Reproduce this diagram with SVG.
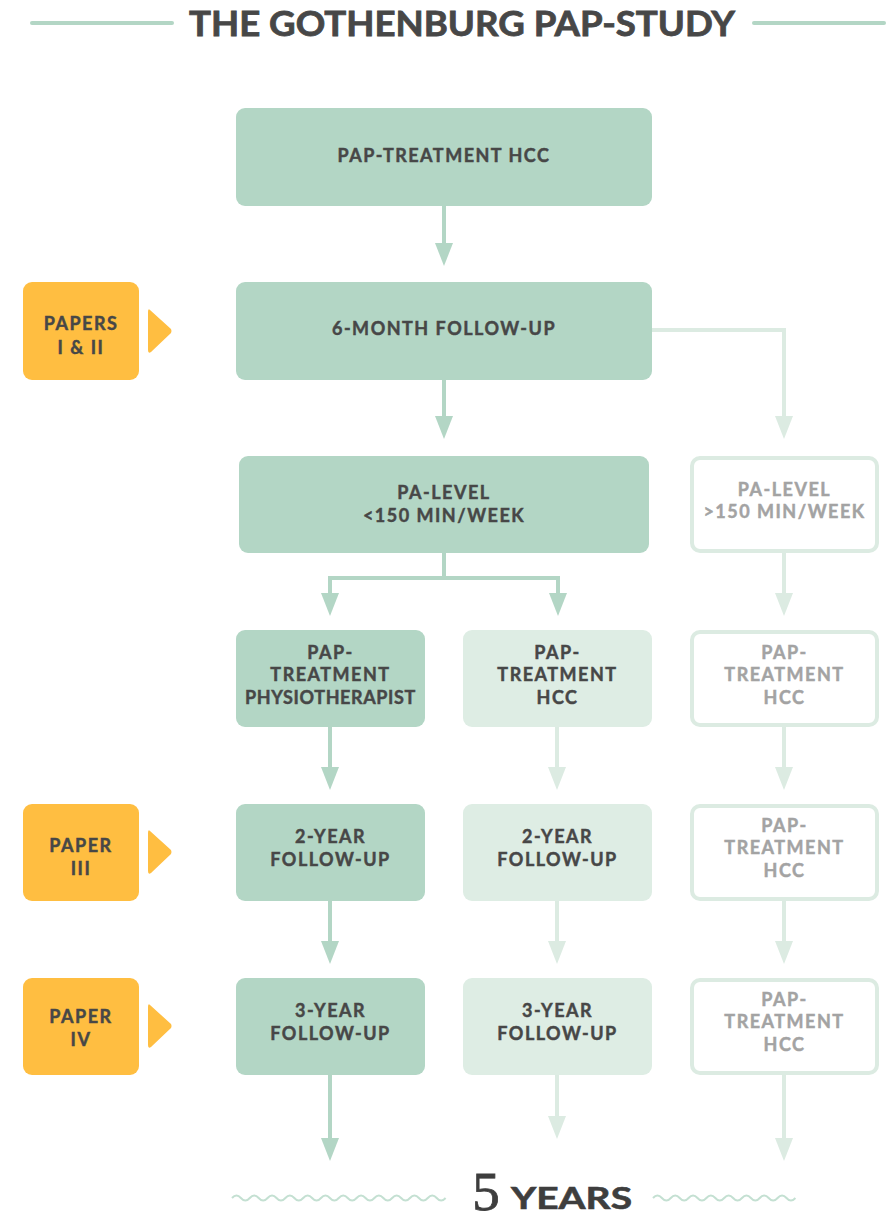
<svg xmlns="http://www.w3.org/2000/svg" width="891" height="1222" viewBox="0 0 891 1222">
  <style>
    .t { font-family: Lato, "Liberation Sans", sans-serif; font-weight: 700; font-size: 18px; letter-spacing: 1.5px; text-anchor: middle; fill: #474747; stroke: #474747; stroke-width: 0.45; }
    .g { fill: #a3a3a3; stroke: #a3a3a3; }
    .main { fill: #b3d6c5; }
    .soft { fill: #deede4; }
    .open { fill: #ffffff; stroke: #dcebe2; stroke-width: 4; }
    .paper { fill: #ffbe41; }
    .c-main { fill: none; stroke: #b3d6c5; stroke-width: 4; }
    .c-soft { fill: none; stroke: #dcebe2; stroke-width: 4; }
  </style>
  <defs>
    <marker id="head-main" markerUnits="userSpaceOnUse" markerWidth="24" markerHeight="18" refX="0" refY="9" orient="auto" viewBox="0 0 24 18">
      <path d="M0,0 L23,9 L0,18 z" fill="#b3d6c5"/>
    </marker>
    <marker id="head-soft" markerUnits="userSpaceOnUse" markerWidth="24" markerHeight="18" refX="0" refY="9" orient="auto" viewBox="0 0 24 18">
      <path d="M0,0 L23,9 L0,18 z" fill="#dcebe2"/>
    </marker>
    <path id="pointer" d="M150,-21 Q148,-23 148,-19 L148,19 Q148,23 151,21 L171,2 Q172,0 171,-2 z"/>
  </defs>

  <!-- title -->
  <g id="title">
    <line x1="32" y1="23" x2="172" y2="23" stroke="#b3d6c5" stroke-width="4" stroke-linecap="round"/>
    <line x1="754" y1="23" x2="884" y2="23" stroke="#b3d6c5" stroke-width="4" stroke-linecap="round"/>
    <text x="462" y="36" textLength="546" lengthAdjust="spacingAndGlyphs" style="font-family: Lato, 'Liberation Sans', sans-serif; font-weight: 700; font-size: 35px; fill: #474747; stroke: #474747; stroke-width: 0.8; text-anchor: middle;">THE GOTHENBURG PAP-STUDY</text>
  </g>

  <!-- connectors -->
  <g id="connectors">
    <path class="c-main" d="M444 206 V243" marker-end="url(#head-main)"/>
    <path class="c-main" d="M444 380 V416" marker-end="url(#head-main)"/>
    <path class="c-soft" d="M652 330 H784 V416" marker-end="url(#head-soft)"/>
    <path class="c-main" d="M444 553 V578"/>
    <path class="c-main" d="M444 578 H330 V593" marker-end="url(#head-main)"/>
    <path class="c-main" d="M444 578 H558 V593" marker-end="url(#head-main)"/>
    <path class="c-soft" d="M784 553 V593" marker-end="url(#head-soft)"/>

    <path class="c-main" d="M330 727 V767" marker-end="url(#head-main)"/>
    <path class="c-soft" d="M557 727 V767" marker-end="url(#head-soft)"/>
    <path class="c-soft" d="M784 727 V767" marker-end="url(#head-soft)"/>

    <path class="c-main" d="M330 901 V941" marker-end="url(#head-main)"/>
    <path class="c-soft" d="M557 901 V941" marker-end="url(#head-soft)"/>
    <path class="c-soft" d="M784 901 V941" marker-end="url(#head-soft)"/>

    <path class="c-main" d="M330 1075 V1138" marker-end="url(#head-main)"/>
    <path class="c-soft" d="M557 1075 V1116" marker-end="url(#head-soft)"/>
    <path class="c-soft" d="M784 1075 V1138" marker-end="url(#head-soft)"/>
  </g>

  <!-- main column -->
  <g id="pap-treatment-hcc">
    <rect class="main" x="236" y="108" width="416" height="98" rx="9"/>
    <text class="t" x="444" y="162">PAP-TREATMENT HCC</text>
  </g>
  <g id="six-month-follow-up">
    <rect class="main" x="236" y="282" width="416" height="98" rx="9"/>
    <text class="t" x="444" y="335">6-MONTH FOLLOW-UP</text>
  </g>
  <g id="pa-level-low">
    <rect class="main" x="239" y="456" width="410" height="97" rx="9"/>
    <text class="t" x="444" y="499">PA-LEVEL</text>
    <text class="t" x="444" y="522">&lt;150 MIN/WEEK</text>
  </g>
  <g id="pa-level-high">
    <rect class="open" x="692" y="458" width="185" height="93" rx="8"/>
    <text class="t g" x="784.5" y="496">PA-LEVEL</text>
    <text class="t g" x="784.5" y="518">&gt;150 MIN/WEEK</text>
  </g>

  <!-- row: treatment -->
  <g id="pap-physiotherapist">
    <rect class="main" x="236" y="630" width="189" height="97" rx="9"/>
    <text class="t" x="330.5" y="659">PAP-</text>
    <text class="t" x="330.5" y="681">TREATMENT</text>
    <text class="t" x="330.5" y="704" style="letter-spacing: 0.6px;">PHYSIOTHERAPIST</text>
  </g>
  <g id="pap-hcc-middle">
    <rect class="soft" x="463" y="630" width="189" height="97" rx="9"/>
    <text class="t" x="557.5" y="659">PAP-</text>
    <text class="t" x="557.5" y="681">TREATMENT</text>
    <text class="t" x="557.5" y="704">HCC</text>
  </g>
  <g id="pap-hcc-right-1">
    <rect class="open" x="692" y="632" width="185" height="93" rx="8"/>
    <text class="t g" x="784.5" y="659">PAP-</text>
    <text class="t g" x="784.5" y="681">TREATMENT</text>
    <text class="t g" x="784.5" y="704">HCC</text>
  </g>

  <!-- row: two years -->
  <g id="papers-iii">
    <rect class="paper" x="23" y="804" width="116" height="97" rx="9"/>
    <text class="t" x="81" y="852">PAPER</text>
    <text class="t" x="81" y="875">III</text>
    <use href="#pointer" class="paper" transform="translate(0,852)"/>
  </g>
  <g id="two-year-left">
    <rect class="main" x="236" y="804" width="189" height="97" rx="9"/>
    <text class="t" x="330.5" y="843">2-YEAR</text>
    <text class="t" x="330.5" y="866">FOLLOW-UP</text>
  </g>
  <g id="two-year-middle">
    <rect class="soft" x="463" y="804" width="189" height="97" rx="9"/>
    <text class="t" x="557.5" y="843">2-YEAR</text>
    <text class="t" x="557.5" y="866">FOLLOW-UP</text>
  </g>
  <g id="pap-hcc-right-2">
    <rect class="open" x="692" y="806" width="185" height="93" rx="8"/>
    <text class="t g" x="784.5" y="832">PAP-</text>
    <text class="t g" x="784.5" y="854">TREATMENT</text>
    <text class="t g" x="784.5" y="877">HCC</text>
  </g>

  <!-- row: three years -->
  <g id="papers-iv">
    <rect class="paper" x="23" y="978" width="116" height="97" rx="9"/>
    <text class="t" x="81" y="1023">PAPER</text>
    <text class="t" x="81" y="1046">IV</text>
    <use href="#pointer" class="paper" transform="translate(0,1026)"/>
  </g>
  <g id="three-year-left">
    <rect class="main" x="236" y="978" width="189" height="97" rx="9"/>
    <text class="t" x="330.5" y="1017">3-YEAR</text>
    <text class="t" x="330.5" y="1040">FOLLOW-UP</text>
  </g>
  <g id="three-year-middle">
    <rect class="soft" x="463" y="978" width="189" height="97" rx="9"/>
    <text class="t" x="557.5" y="1017">3-YEAR</text>
    <text class="t" x="557.5" y="1040">FOLLOW-UP</text>
  </g>
  <g id="pap-hcc-right-3">
    <rect class="open" x="692" y="980" width="185" height="93" rx="8"/>
    <text class="t g" x="784.5" y="1006">PAP-</text>
    <text class="t g" x="784.5" y="1028">TREATMENT</text>
    <text class="t g" x="784.5" y="1051">HCC</text>
  </g>

  <!-- papers I & II -->
  <g id="papers-i-ii">
    <rect class="paper" x="23" y="282" width="116" height="98" rx="9"/>
    <text class="t" x="81" y="330">PAPERS</text>
    <text class="t" x="81" y="354">I &amp; II</text>
    <use href="#pointer" class="paper" transform="translate(0,331)"/>
  </g>

  <!-- five-year footer -->
  <g id="five-years">
    <path d="M232 1198 q4.45 -5 8.9 0 t8.9 0 t8.9 0 t8.9 0 t8.9 0 t8.9 0 t8.9 0 t8.9 0 t8.9 0 t8.9 0 t8.9 0 t8.9 0 t8.9 0 t8.9 0 t8.9 0 t8.9 0 t8.9 0 t8.9 0 t8.9 0 t8.9 0 t8.9 0 t8.9 0 t8.9 0 t8.9 0" fill="none" stroke="#c4e0d2" stroke-width="2"/>
    <path d="M653 1198 q4.45 -5 8.9 0 t8.9 0 t8.9 0 t8.9 0 t8.9 0 t8.9 0 t8.9 0 t8.9 0 t8.9 0 t8.9 0 t8.9 0 t8.9 0 t8.9 0 t8.9 0 t8.9 0 t8.9 0" fill="none" stroke="#c4e0d2" stroke-width="2"/>
    <text x="486" y="1210" style="font-family: 'Liberation Serif', serif; font-size: 55px; fill: #3e3e3e; stroke: #3e3e3e; stroke-width: 0.8; text-anchor: middle;">5</text>
    <text x="511" y="1209" textLength="121" lengthAdjust="spacingAndGlyphs" style="font-family: Lato, 'Liberation Sans', sans-serif; font-weight: 700; font-size: 31px; fill: #3e3e3e; stroke: #3e3e3e; stroke-width: 0.6;">YEARS</text>
  </g>
</svg>
